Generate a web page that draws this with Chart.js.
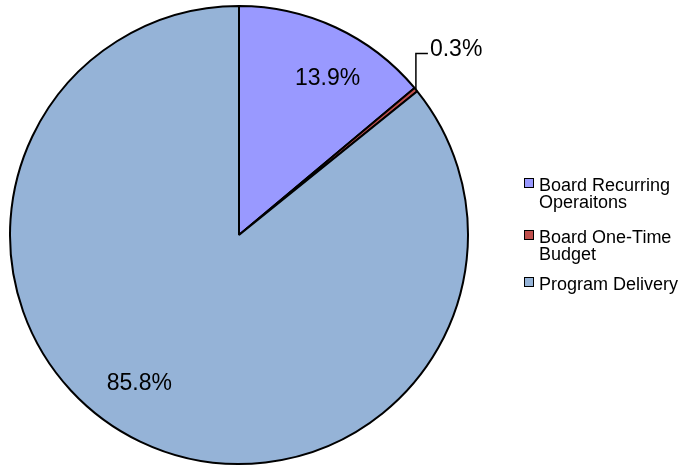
<!DOCTYPE html>
<html>
<head>
<meta charset="utf-8">
<script src="https://cdn.jsdelivr.net/npm/chart.js@4"></script>
<style>
  html, body { margin: 0; padding: 0; background: #fff; }
  #wrap { position: relative; width: 683px; height: 466px; }
  #c { position: absolute; left: 0; top: 0; }
  .lg { position: absolute; left: 524px; font-family: "Liberation Sans", Arial, sans-serif; font-size: 18px; line-height: 17px; color: #000; }
  .lg .sw { position: absolute; left: 0; top: 1px; width: 8px; height: 8px; border: 1.5px solid #000; }
  .lg .tx { position: absolute; left: 15px; top: 0; white-space: nowrap; }
</style>
</head>
<body>
<div id="wrap">
  <canvas id="c" width="683" height="466"></canvas>
  <div id="legend"></div>
</div>
<script>
const categories = [["Board Recurring", "Operaitons"], ["Board One-Time", "Budget"], ["Program Delivery"]];
const values = [13.9, 0.3, 85.8];
const valueLabels = ["13.9%", "0.3%", "85.8%"];
const colors = ["#9999FF", "#C0504D", "#95B3D7"];

// HTML legend
const legendTops = [177, 229, 276];
const legend = document.getElementById('legend');
categories.forEach((lines, i) => {
  const d = document.createElement('div');
  d.className = 'lg';
  d.style.top = legendTops[i] + 'px';
  const sw = document.createElement('div');
  sw.className = 'sw';
  sw.style.background = colors[i];
  const tx = document.createElement('div');
  tx.className = 'tx';
  tx.innerHTML = lines.join('<br>');
  d.appendChild(sw);
  d.appendChild(tx);
  legend.appendChild(d);
});

// label placement: fraction along slice angle, fraction of radius
const labelPlace = [
  { a: 0.59, r: 0.785, leader: false },
  { a: 0.5, r: 1.0, leader: true },
  { a: 0.527, r: 0.78, leader: false }
];

const labelPlugin = {
  id: 'sliceLabels',
  afterDatasetsDraw(chart) {
    const ctx = chart.ctx;
    const meta = chart.getDatasetMeta(0);
    ctx.save();
    ctx.font = '23px "Liberation Sans", Arial, sans-serif';
    ctx.fillStyle = '#000';
    meta.data.forEach((arc, i) => {
      const p = labelPlace[i];
      const { x, y, startAngle, endAngle, outerRadius } = arc.getProps(['x', 'y', 'startAngle', 'endAngle', 'outerRadius'], true);
      const ang = startAngle + (endAngle - startAngle) * p.a;
      const px = x + Math.cos(ang) * outerRadius * p.r;
      const py = y + Math.sin(ang) * outerRadius * p.r;
      if (p.leader) {
        const topY = py - 36;
        ctx.strokeStyle = '#000';
        ctx.lineWidth = 1.5;
        ctx.beginPath();
        ctx.moveTo(px, py);
        ctx.lineTo(px, topY);
        ctx.lineTo(px + 12, topY);
        ctx.stroke();
        ctx.textAlign = 'left';
        ctx.textBaseline = 'middle';
        ctx.fillText(valueLabels[i], px + 14, topY - 4);
      } else {
        ctx.textAlign = 'center';
        ctx.textBaseline = 'middle';
        ctx.fillText(valueLabels[i], px, py);
      }
    });
    ctx.restore();
  }
};

new Chart(document.getElementById('c'), {
  type: 'pie',
  data: {
    labels: categories.map(l => l.join(' ')),
    datasets: [{
      data: values,
      backgroundColor: colors,
      borderColor: '#000',
      borderWidth: 2
    }]
  },
  options: {
    responsive: false,
    animation: false,
    events: [],
    layout: { padding: { left: 9, top: 5, right: 214, bottom: 1 } },
    plugins: {
      legend: { display: false },
      tooltip: { enabled: false }
    }
  },
  plugins: [labelPlugin]
});
</script>
</body>
</html>
